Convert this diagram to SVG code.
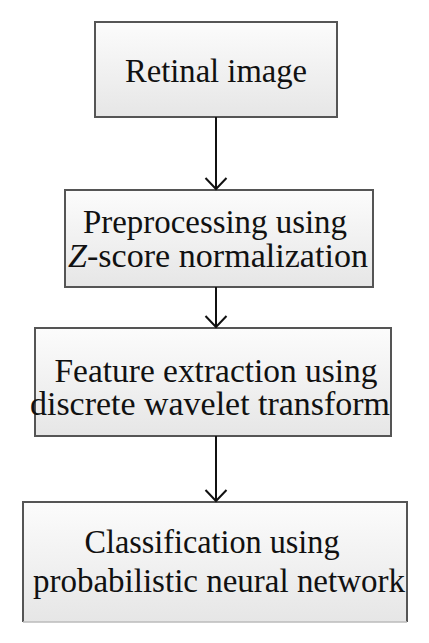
<svg xmlns="http://www.w3.org/2000/svg" width="429" height="643" viewBox="0 0 429 643">
<defs>
<linearGradient id="g" x1="0" y1="0" x2="0" y2="1">
<stop offset="0" stop-color="#fcfcfc"/>
<stop offset="1" stop-color="#e6e6e6"/>
</linearGradient>
<marker id="arr" viewBox="0 0 14 24" refX="12" refY="12" markerWidth="14" markerHeight="24" markerUnits="userSpaceOnUse" orient="auto">
<path d="M1,1.5 L12,12 L1,22.5" fill="none" stroke="#111" stroke-width="2"/>
</marker>
</defs>
<style>
.box{fill:url(#g);stroke:#555;stroke-width:2}
.t{font-family:"Liberation Serif","Times New Roman",serif;font-size:33px;fill:#111;text-anchor:middle}
.c{stroke:#111;stroke-width:2;fill:none}
</style>
<rect width="429" height="643" fill="#fff"/>
<g id="n1">
<rect class="box" x="95" y="22" width="242" height="95"/>
<text class="t" x="216" y="82" textLength="182" lengthAdjust="spacingAndGlyphs">Retinal image</text>
</g>
<g id="n2">
<rect class="box" x="65" y="190" width="308" height="97"/>
<text class="t" x="215" y="233" textLength="264" lengthAdjust="spacingAndGlyphs">Preprocessing using</text>
<text class="t" x="218" y="267" textLength="300" lengthAdjust="spacingAndGlyphs"><tspan font-style="italic">Z</tspan>-score normalization</text>
</g>
<g id="n3">
<rect class="box" x="35" y="328" width="356" height="108"/>
<text class="t" x="216" y="382" textLength="323" lengthAdjust="spacingAndGlyphs">Feature extraction using</text>
<text class="t" x="210" y="415" textLength="360" lengthAdjust="spacingAndGlyphs">discrete wavelet transform</text>
</g>
<g id="n4">
<rect x="23" y="502" width="384" height="120" fill="url(#g)"/>
<path d="M23,622 V502 H407 V622" fill="none" stroke="#555" stroke-width="2"/>
<line x1="23" y1="622" x2="407" y2="622" stroke="#bbb" stroke-width="1.5"/>
<text class="t" x="212" y="553" textLength="255" lengthAdjust="spacingAndGlyphs">Classification using</text>
<text class="t" x="219" y="592" textLength="372" lengthAdjust="spacingAndGlyphs">probabilistic neural network</text>
</g>
<g id="connectors">
<line class="c" x1="216" y1="117" x2="216" y2="189" marker-end="url(#arr)"/>
<line class="c" x1="216" y1="287" x2="216" y2="327" marker-end="url(#arr)"/>
<line class="c" x1="216" y1="436" x2="216" y2="501" marker-end="url(#arr)"/>
</g>
</svg>
